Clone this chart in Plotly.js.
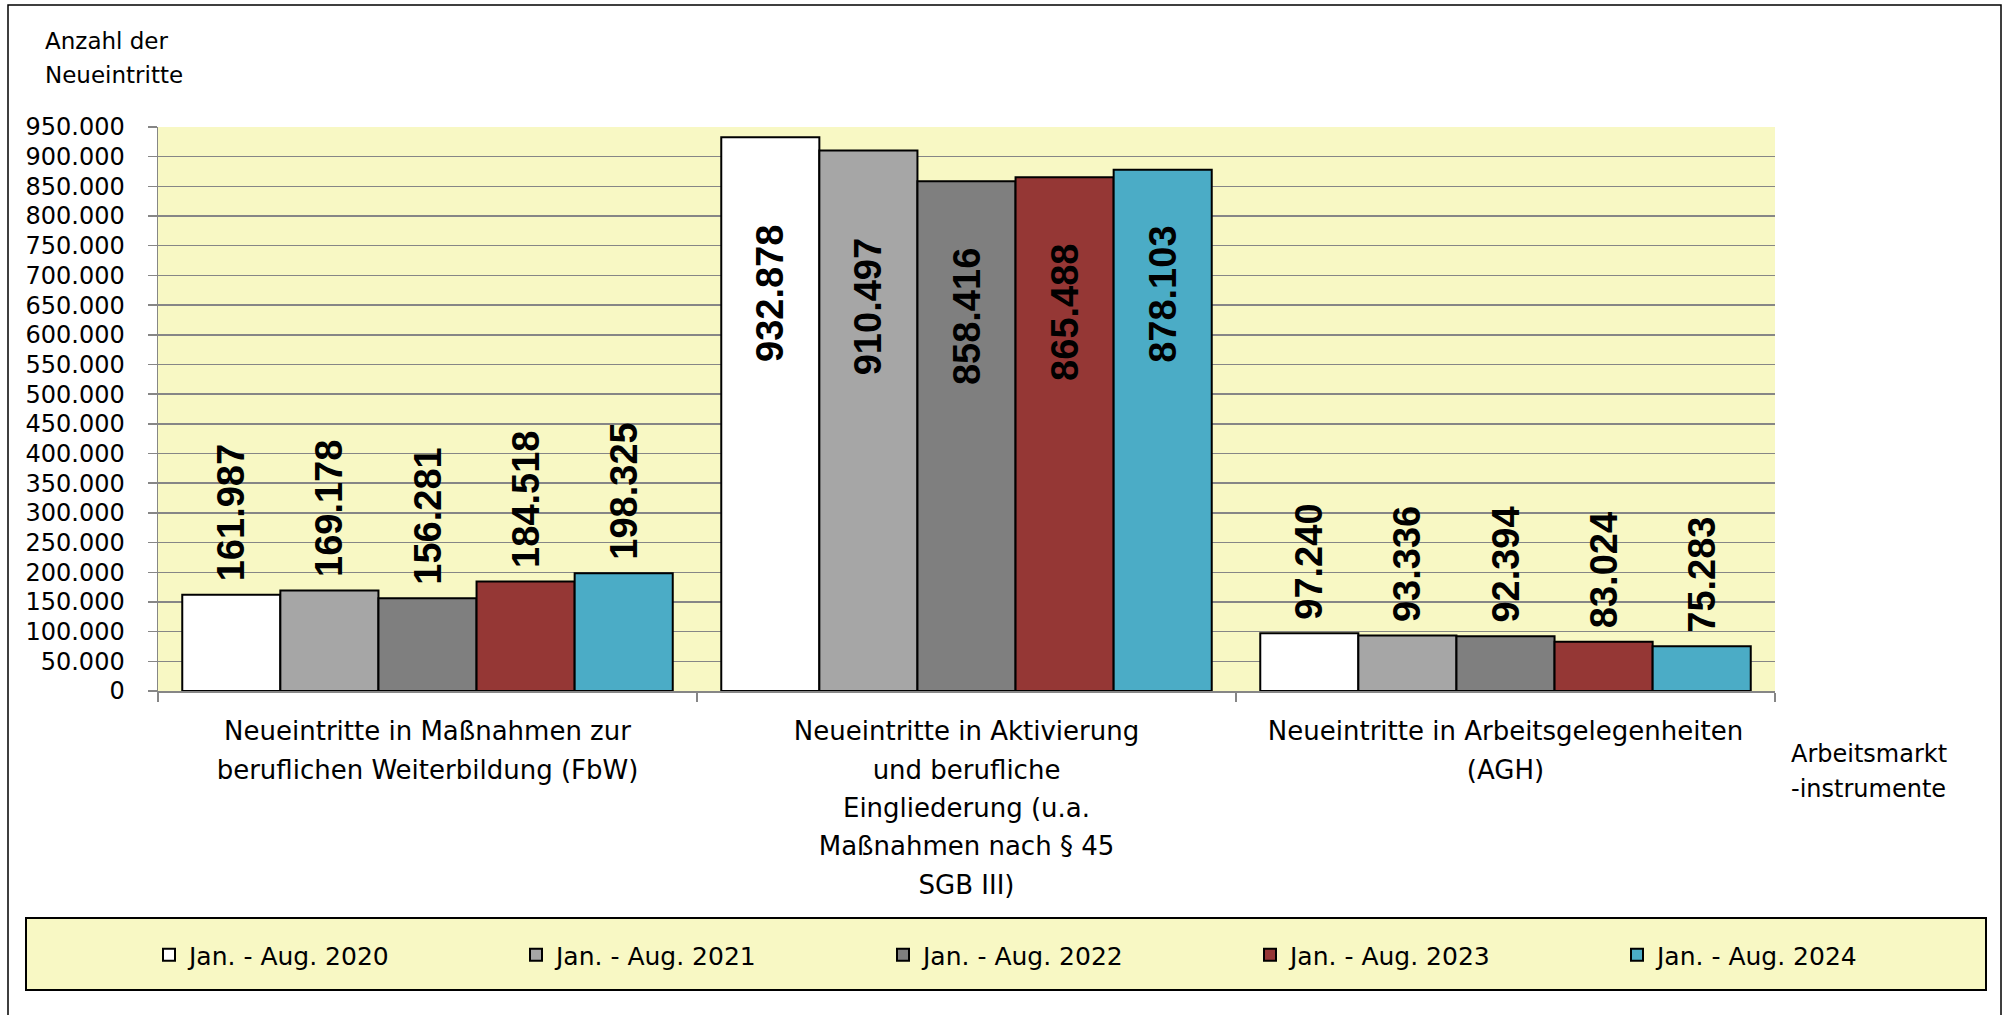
<!DOCTYPE html>
<html>
<head>
<meta charset="utf-8">
<script src="https://cdn.plot.ly/plotly-3.0.1.min.js"></script>
<style>
html, body { margin: 0; padding: 0; background: #ffffff; }
#chart { width: 2006px; height: 1015px; }
</style>
</head>
<body>
<div id="chart"></div>
<script>
// ---------- data ----------
const categories = [
  "Neueintritte in Maßnahmen zur<br>beruflichen Weiterbildung (FbW)",
  "Neueintritte in Aktivierung<br>und berufliche<br>Eingliederung (u.a.<br>Maßnahmen nach § 45<br>SGB III)",
  "Neueintritte in Arbeitsgelegenheiten<br>(AGH)"
];
const seriesNames = [
  "Jan. - Aug. 2020",
  "Jan. - Aug. 2021",
  "Jan. - Aug. 2022",
  "Jan. - Aug. 2023",
  "Jan. - Aug. 2024"
];
const values2020 = [161987, 932878, 97240];
const values2021 = [169178, 910497, 93336];
const values2022 = [156281, 858416, 92394];
const values2023 = [184518, 865488, 83024];
const values2024 = [198325, 878103, 75283];
const yTickMax = 950000;
const yTickStep = 50000;
const yTitle = "Anzahl der<br>Neueintritte";
const xTitle = "Arbeitsmarkt<br>-instrumente";

// ---------- styles ----------
const seriesColors = ["#FFFFFF", "#A6A6A6", "#7F7F7F", "#953735", "#4BACC6"];
const labelInside = [false, true, false];     // per category: label placement
const innerLabelPad = [8, 8, 6, 6, 5];        // per series: spacing above inside labels (in spaces)
const bgYellow = "#F8F8C4";
const gridGray = "#868686";
const NBSP = "\u00A0";

// ---------- geometry (page pixels) ----------
const W = 2006, H = 1015;
const plotL = 158, plotR = 1775, plotT = 127, plotB = 691;
const pw = plotR - plotL, ph = plotB - plotT;
const px = x => (x - plotL) / pw;
const py = y => (plotB - y) / ph;

// multi-line text with wider line spacing: nominal font larger, glyphs set per line
const spaced = (txt, size) => txt.split("<br>").map(l => '<span style="font-size:' + size + 'px">' + l + "</span>").join("<br>");

const allValues = [values2020, values2021, values2022, values2023, values2024];
const legendIds = ["legend", "legend2", "legend3", "legend4", "legend5"];
const legendTextStarts = [189, 556, 923, 1290, 1657];

const traces = allValues.map((vals, i) => ({
  type: "bar",
  name: seriesNames[i],
  x: categories,
  y: vals,
  legend: legendIds[i],
  marker: { color: seriesColors[i], line: { color: "#000000", width: 2 } },
  texttemplate: labelInside.map(ins => ins ? "%{y:,.0f}" + NBSP.repeat(innerLabelPad[i]) : NBSP + "%{y:,.0f}"),
  textposition: labelInside.map(ins => ins ? "inside" : "outside"),
  insidetextanchor: "end",
  textangle: -90,
  constraintext: "none",
  cliponaxis: false,
  textfont: { family: "Liberation Sans, Arial, sans-serif", size: 38, color: "#000000", weight: "bold" },
  hoverinfo: "skip"
}));

const legendBase = {
  orientation: "h",
  xanchor: "left",
  yanchor: "middle",
  y: py(955),
  bgcolor: "rgba(0,0,0,0)",
  borderwidth: 0,
  font: { family: "DejaVu Sans, sans-serif", size: 25, color: "#000000" }
};

const layout = {
  width: W,
  height: H,
  margin: { l: plotL, r: W - plotR, t: plotT, b: H - plotB, autoexpand: false },
  paper_bgcolor: "#FFFFFF",
  plot_bgcolor: bgYellow,
  separators: ",.",
  font: { family: "DejaVu Sans, sans-serif", size: 24, color: "#000000" },
  barmode: "group",
  bargap: 0.09,
  bargroupgap: 0,
  showlegend: true,
  xaxis: {
    type: "category",
    tickmode: "array",
    tickvals: categories,
    ticktext: categories.map(c => spaced(c, 26)),
    showline: true, linecolor: gridGray, linewidth: 1.5,
    ticks: "outside", tickson: "boundaries", ticklen: 9, tickcolor: gridGray, tickwidth: 1.5,
    showgrid: false, zeroline: false,
    tickfont: { family: "DejaVu Sans, sans-serif", size: 29.6, color: "#000000" },
    ticklabelstandoff: 12
  },
  yaxis: {
    range: [0, yTickMax],
    tick0: 0, dtick: yTickStep,
    tickformat: ",.0f",
    showgrid: true, gridcolor: gridGray, gridwidth: 1.5,
    showline: true, linecolor: gridGray, linewidth: 1.5,
    ticks: "outside", ticklen: 9, tickcolor: gridGray, tickwidth: 1.5,
    zeroline: false,
    tickfont: { family: "DejaVu Sans, sans-serif", size: 24, color: "#000000" },
    ticklabelstandoff: 18
  },
  shapes: [
    { type: "rect", xref: "paper", yref: "paper", layer: "below",
      x0: px(26), x1: px(1986), y0: py(990), y1: py(918),
      fillcolor: bgYellow, line: { color: "#000000", width: 2 } },
    { type: "rect", xref: "paper", yref: "paper", layer: "above",
      x0: px(8), x1: px(2001), y0: py(1040), y1: py(5),
      fillcolor: "rgba(0,0,0,0)", line: { color: "#000000", width: 1.5 } }
  ],
  annotations: [
    { text: spaced(yTitle, 23), xref: "paper", yref: "paper", x: px(43), y: py(26),
      xanchor: "left", yanchor: "top", align: "left", showarrow: false,
      font: { family: "DejaVu Sans, sans-serif", size: 26.5, color: "#000000" } },
    { text: spaced(xTitle, 24), xref: "paper", yref: "paper", x: px(1789), y: py(738),
      xanchor: "left", yanchor: "top", align: "left", showarrow: false,
      font: { family: "DejaVu Sans, sans-serif", size: 27, color: "#000000" } }
  ]
};

legendIds.forEach((id, i) => {
  layout[id] = Object.assign({}, legendBase, { x: px(legendTextStarts[i] - 40) });
});

Plotly.newPlot("chart", traces, layout, { displayModeBar: false, staticPlot: true });
</script>
</body>
</html>
